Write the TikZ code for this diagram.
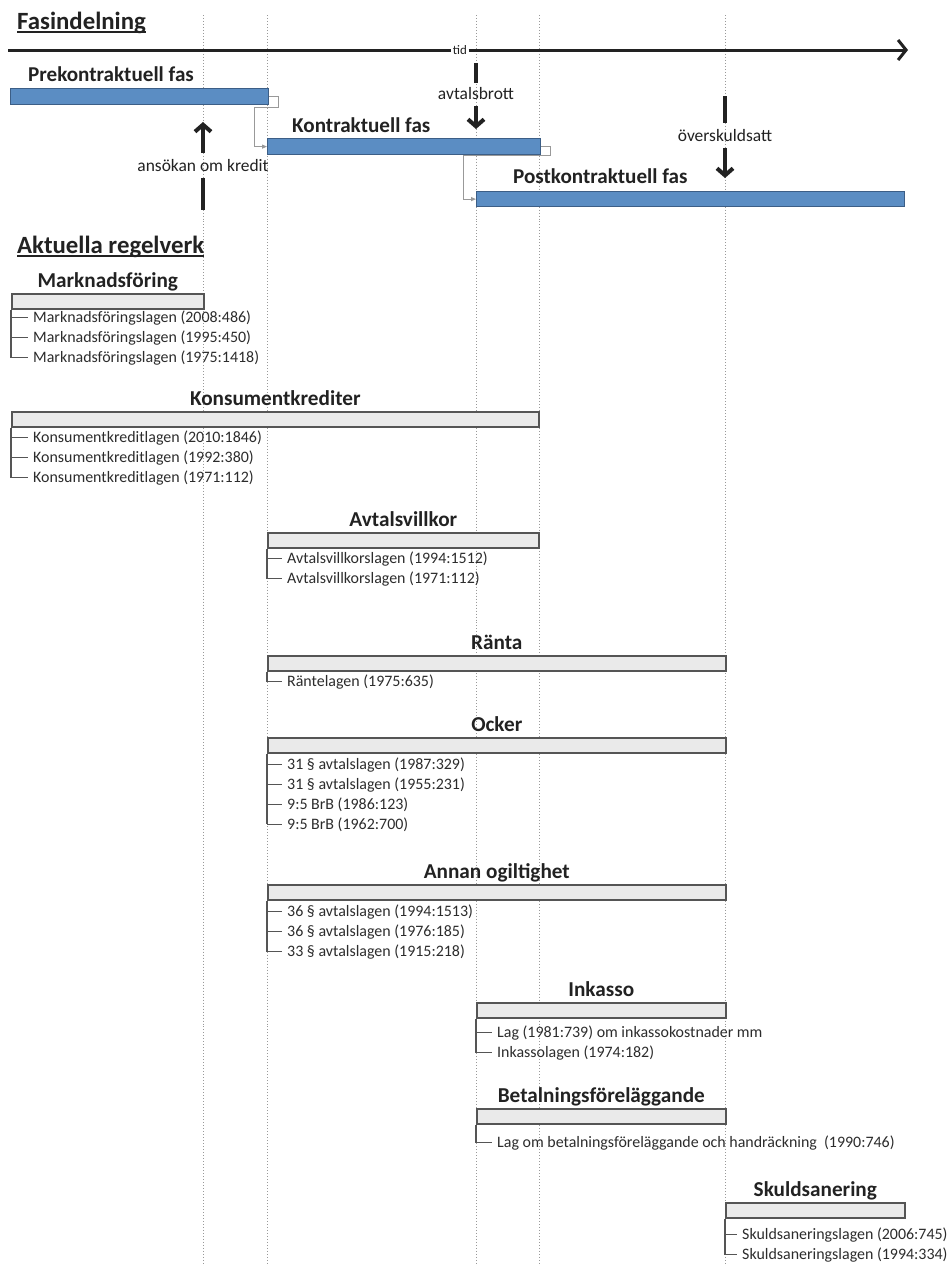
\documentclass[tikz,border=0pt]{standalone}
\usepackage{fontspec}
\setmainfont{Carlito}
\usetikzlibrary{arrows.meta,calc}
\definecolor{barblue}{HTML}{5B8DC3}
\definecolor{barblueedge}{HTML}{3C5E86}
\definecolor{gbar}{HTML}{EAEAEA}
\definecolor{gedge}{HTML}{555555}
\definecolor{ink}{HTML}{222222}
\definecolor{iteminki}{HTML}{2C2C2C}
\begin{document}
\begin{tikzpicture}[x=1bp,y=-1bp,
  phasebar/.style={rectangle, draw=barblueedge, fill=barblue, line width=1.2bp, minimum height=15bp, inner sep=0, anchor=north west},
  lawbar/.style={rectangle, draw=gedge, fill=gbar, line width=1.6bp, minimum height=15bp, inner sep=0, anchor=north west},
  head/.style={font=\fontsize{21.3}{23}\selectfont\bfseries, text=ink, inner sep=0, anchor=base},
  phaselabel/.style={font=\fontsize{21.2}{23}\selectfont\bfseries, text=ink, inner sep=0, anchor=base west},
  titletext/.style={font=\fontsize{24.9}{27}\selectfont\bfseries, text=ink, inner sep=0, anchor=base west},
  item/.style={font=\fontsize{16}{18}\selectfont, text=iteminki, inner sep=0, anchor=base west},
  small/.style={font=\fontsize{17.5}{19}\selectfont, text=ink, inner sep=0, anchor=base},
  gridline/.style={gray!80, dotted, line width=1bp},
  tree/.style={gedge, line width=1.3bp},
  evt/.style={ink, line width=4bp},
  evtarrow/.style={evt, -{Straight Barb[length=7bp,width=16bp]}},
  axisline/.style={ink, line width=3bp},
  link/.style={gray!80, line width=1bp, -{Triangle[length=5bp,width=4bp]}},
]
\useasboundingbox (0,0) rectangle (948,1266);
\fill[white] (0,0) rectangle (948,1266);

% dotted guide lines
\foreach \gx/\gn in {203/ga,267/gb,476/gc,539/gd,725/ge}{
  \coordinate (\gn top) at (\gx,15);
  \coordinate (\gn bot) at (\gx,1266);
  \draw[gridline] (\gn top) -- (\gn bot);
}

% titles
\node[titletext] (fas) at (17,29) {Fasindelning};
\draw[ink, line width=1.6bp] ($(fas.base west)+(0,3)$) -- ($(fas.base east)+(0,3)$);
\node[titletext] (akt) at (17,253) {Aktuella regelverk};
\draw[ink, line width=1.6bp] ($(akt.base west)+(0,3)$) -- ($(akt.base east)+(0,3)$);

% time axis
\coordinate (t0) at (8,50);
\coordinate (t1) at (908,50);
\node[font=\fontsize{13}{14}\selectfont, text=ink, fill=white, inner sep=1.5bp] (tid) at (460,50) {tid};
\draw[axisline] (t0) -- (tid.west);
\draw[axisline, -{Straight Barb[length=8bp,width=20bp]}] (tid.east) -- (t1);

% phases
\node[phasebar, minimum width=258bp, minimum height=16bp] (pre) at (10,88) {};
\node[phaselabel] (prelab) at (28,81) {Prekontraktuell fas};
\node[phasebar, minimum width=273bp, minimum height=16bp] (kon) at (267,138) {};
\node[phaselabel] (konlab) at (292,132) {Kontraktuell fas};
\node[phasebar, minimum width=428bp] (post) at (476,191) {};
\node[phaselabel] (postlab) at (513,183) {Postkontraktuell fas};

\draw[link] (pre.east) -- ++(9,0) -- ++(0,11) -- ++(-24,0) |- (kon.west);
\draw[link] (kon.east) -- ++(9,0) -- ++(0,9) -- ++(-87,0) |- (post.west);

% events
\node[small] (ansokan) at (203,171) {ansökan om kredit};
\coordinate (ans1) at (203,153); \coordinate (ans2) at (203,122);
\coordinate (ans3) at (203,178); \coordinate (ans4) at (203,210);
\draw[evtarrow] (ans1) -- (ans2);
\draw[evt] (ans3) -- (ans4);

\node[small] (brott) at (476,99) {avtalsbrott};
\coordinate (br1) at (476,63); \coordinate (br2) at (476,83);
\coordinate (br3) at (476,106); \coordinate (br4) at (476,129);
\draw[evt] (br1) -- (br2);
\draw[evtarrow] (br3) -- (br4);

\node[small] (over) at (725,141) {överskuldsatt};
\coordinate (ov1) at (725,96); \coordinate (ov2) at (725,123);
\coordinate (ov3) at (725,148); \coordinate (ov4) at (725,178);
\draw[evt] (ov1) -- (ov2);
\draw[evtarrow] (ov3) -- (ov4);

% ---------- law groups ----------
% Marknadsforing
\node[lawbar, minimum width=192bp] (mbar) at (11,293) {};
\node[head] (mhead) at ($(mbar.north)+(0,-6)$) {Marknadsföring};
\node[item] (m1) at (33,322) {Marknadsföringslagen (2008:486)};
\node[item] (m2) at (33,342) {Marknadsföringslagen (1995:450)};
\node[item] (m3) at (33,362) {Marknadsföringslagen (1975:1418)};
\draw[tree] (mbar.south west) -- (mbar.south west |- m3.west);
\foreach \n in {m1,m2,m3}{\draw[tree] (mbar.south west |- \n.west) -- ($(\n.west)+(-5,0)$);}

% Konsumentkrediter
\node[lawbar, minimum width=527bp] (kbar) at (11,411) {};
\node[head] (khead) at ($(kbar.north)+(0,-6)$) {Konsumentkrediter};
\node[item] (k1) at (33,442) {Konsumentkreditlagen (2010:1846)};
\node[item] (k2) at (33,462) {Konsumentkreditlagen (1992:380)};
\node[item] (k3) at (33,482) {Konsumentkreditlagen (1971:112)};
\draw[tree] (kbar.south west) -- (kbar.south west |- k3.west);
\foreach \n in {k1,k2,k3}{\draw[tree] (kbar.south west |- \n.west) -- ($(\n.west)+(-5,0)$);}

% Avtalsvillkor
\node[lawbar, minimum width=271bp] (abar) at (267,532) {};
\node[head] (ahead) at ($(abar.north)+(0,-6)$) {Avtalsvillkor};
\node[item] (a1) at (287,563) {Avtalsvillkorslagen (1994:1512)};
\node[item] (a2) at (287,583) {Avtalsvillkorslagen (1971:112)};
\draw[tree] (abar.south west) -- (abar.south west |- a2.west);
\foreach \n in {a1,a2}{\draw[tree] (abar.south west |- \n.west) -- ($(\n.west)+(-5,0)$);}

% Ranta
\node[lawbar, minimum width=458bp] (rbar) at (267,655) {};
\node[head] (rhead) at ($(rbar.north)+(0,-6)$) {Ränta};
\node[item] (r1) at (287,686) {Räntelagen (1975:635)};
\draw[tree] (rbar.south west) -- (rbar.south west |- r1.west) -- ($(r1.west)+(-5,0)$);

% Ocker
\node[lawbar, minimum width=458bp] (obar) at (267,737) {};
\node[head] (ohead) at ($(obar.north)+(0,-6)$) {Ocker};
\node[item] (o1) at (287,769) {31 § avtalslagen (1987:329)};
\node[item] (o2) at (287,789) {31 § avtalslagen (1955:231)};
\node[item] (o3) at (287,809) {9:5 BrB (1986:123)};
\node[item] (o4) at (287,829) {9:5 BrB (1962:700)};
\draw[tree] (obar.south west) -- (obar.south west |- o4.west);
\foreach \n in {o1,o2,o3,o4}{\draw[tree] (obar.south west |- \n.west) -- ($(\n.west)+(-5,0)$);}

% Annan ogiltighet
\node[lawbar, minimum width=458bp] (nbar) at (267,884) {};
\node[head] (nhead) at ($(nbar.north)+(0,-6)$) {Annan ogiltighet};
\node[item] (n1) at (287,916) {36 § avtalslagen (1994:1513)};
\node[item] (n2) at (287,936) {36 § avtalslagen (1976:185)};
\node[item] (n3) at (287,956) {33 § avtalslagen (1915:218)};
\draw[tree] (nbar.south west) -- (nbar.south west |- n3.west);
\foreach \n in {n1,n2,n3}{\draw[tree] (nbar.south west |- \n.west) -- ($(\n.west)+(-5,0)$);}

% Inkasso
\node[lawbar, minimum width=249bp] (ibar) at (476,1002) {};
\node[head] (ihead) at ($(ibar.north)+(0,-6)$) {Inkasso};
\node[item] (i1) at (497,1037) {Lag (1981:739) om inkassokostnader mm};
\node[item] (i2) at (497,1057) {Inkassolagen (1974:182)};
\draw[tree] (ibar.south west) -- (ibar.south west |- i2.west);
\foreach \n in {i1,i2}{\draw[tree] (ibar.south west |- \n.west) -- ($(\n.west)+(-5,0)$);}

% Betalningsforelaggande
\node[lawbar, minimum width=249bp] (bbar) at (476,1108) {};
\node[head] (bhead) at ($(bbar.north)+(0,-6)$) {Betalningsföreläggande};
\node[item] (b1) at (497,1147) {Lag om betalningsföreläggande och handräckning\ \ (1990:746)};
\draw[tree] (bbar.south west) -- (bbar.south west |- b1.west) -- ($(b1.west)+(-5,0)$);

% Skuldsanering
\node[lawbar, minimum width=179bp] (sbar) at (725,1202) {};
\node[head] (shead) at ($(sbar.north)+(0,-6)$) {Skuldsanering};
\node[item] (s1) at (742,1239) {Skuldsaneringslagen (2006:745)};
\node[item] (s2) at (742,1259) {Skuldsaneringslagen (1994:334)};
\draw[tree] (sbar.south west) -- (sbar.south west |- s2.west);
\foreach \n in {s1,s2}{\draw[tree] (sbar.south west |- \n.west) -- ($(\n.west)+(-5,0)$);}
\end{tikzpicture}
\end{document}
